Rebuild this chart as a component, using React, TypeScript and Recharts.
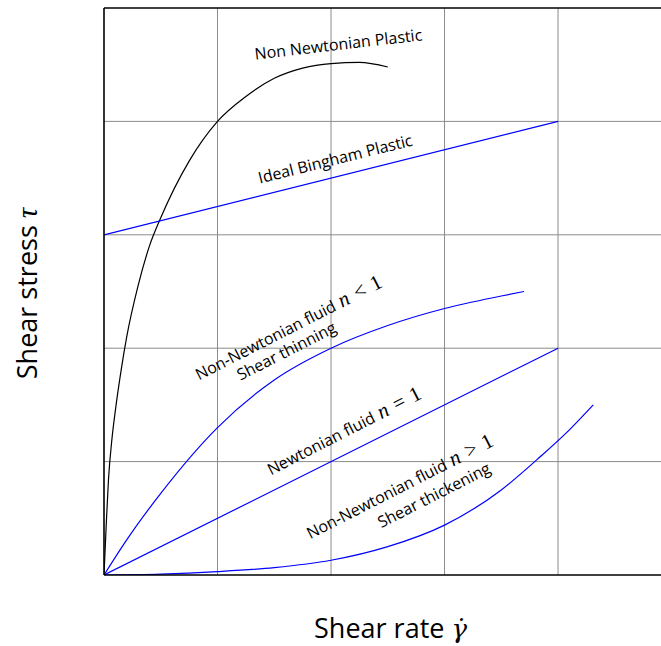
import React from 'react';
import { LineChart, Line, XAxis, YAxis, ReferenceLine, ReferenceDot } from 'recharts';

const X_MAX = 4.907;
const Y_MAX = 5;
const gridX = [1, 2, 3, 4];
const gridY = [1, 2, 3, 4];

const plasticX = [0, 0.02, 0.04, 0.07, 0.1, 0.15, 0.2, 0.3, 0.4, 0.5, 0.75, 1, 1.25, 1.5, 1.75, 2, 2.25, 2.5];
const plasticY = [0, 0.45, 0.85, 1.2, 1.45, 1.8, 2.1, 2.55, 2.9, 3.15, 3.65, 4.0, 4.22, 4.38, 4.47, 4.51, 4.52, 4.48];

const binghamX = [0, 4];
const binghamY = [3, 4];

const thinningX = [0, 0.2, 0.5, 1, 1.5, 2, 2.5, 3, 3.5, 3.7];
const thinningY = [0, 0.31, 0.72, 1.3, 1.72, 2.0, 2.2, 2.35, 2.46, 2.5];

const newtonX = [0, 4];
const newtonY = [0, 2];

const thickeningX = [0, 0.5, 1, 1.5, 2, 2.5, 3, 3.5, 3.84, 4.1, 4.31];
const thickeningY = [0, 0.008, 0.03, 0.065, 0.13, 0.25, 0.44, 0.75, 1.04, 1.28, 1.5];

const annotationText = [
  'Non Newtonian Plastic',
  'Ideal Bingham Plastic',
  'Non-Newtonian fluid',
  'Shear thinning',
  'Newtonian fluid',
  'Non-Newtonian fluid',
  'Shear thickening',
];
const annotationMath = ['', '', '<', '', '=', '>', ''];
const annotationX = [2.07, 2.05, 1.65, 1.63, 2.14, 2.63, 2.93];
const annotationY = [4.63, 3.62, 2.13, 1.93, 1.22, 0.73, 0.66];
const annotationAngle = [-6.6, -14, -27, -27, -27, -27, -27];

const toData = (xs: number[], ys: number[]) => xs.map((x, i) => ({ x, y: ys[i] }));

const series = [
  { name: 'plastic', data: toData(plasticX, plasticY), color: '#000000' },
  { name: 'bingham', data: toData(binghamX, binghamY), color: '#0000ff' },
  { name: 'thinning', data: toData(thinningX, thinningY), color: '#0000ff' },
  { name: 'newton', data: toData(newtonX, newtonY), color: '#0000ff' },
  { name: 'thickening', data: toData(thickeningX, thickeningY), color: '#0000ff' },
];

const SANS = '"Open Sans", "Noto Sans", sans-serif';
const SERIF = '"Liberation Serif", "DejaVu Serif", serif';

const AnnoText = ({ cx, cy, angle, text, math }: any) => (
  <text
    x={cx}
    y={cy}
    transform={`rotate(${angle} ${cx} ${cy})`}
    textAnchor="middle"
    fontFamily={SANS}
    fontSize={16}
    fill="#000"
  >
    {text}
    {math ? (
      <>
        <tspan fontFamily={SERIF} fontStyle="italic" fontSize={21}>{' n'}</tspan>
        <tspan fontFamily={SERIF} fontSize={21} dx={7}>{math}</tspan>
        <tspan fontFamily={SERIF} fontSize={21} dx={7}>{'1'}</tspan>
      </>
    ) : null}
  </text>
);

const XTitle = ({ viewBox }: any) => {
  const cx = viewBox.x + viewBox.width / 2 + 8;
  const y = viewBox.y + 63;
  return (
    <text x={cx} y={y} textAnchor="middle" fontFamily={SANS} fontSize={27} fill="#000">
      Shear rate{' '}
      <tspan fontFamily={'"DejaVu Serif", serif'} fontStyle="italic" fontSize={26}>{'\u03B3\u0307'}</tspan>
    </text>
  );
};

const YTitle = ({ viewBox }: any) => {
  const x = 37;
  const cy = viewBox.y + viewBox.height / 2 + 2;
  return (
    <text
      x={x}
      y={cy}
      transform={`rotate(-90 ${x} ${cy})`}
      textAnchor="middle"
      fontFamily={SANS}
      fontSize={27}
      fill="#000"
    >
      Shear stress{' '}
      <tspan fontFamily={SERIF} fontStyle="italic" fontSize={29}>{'\u03C4'}</tspan>
    </text>
  );
};

export default function App() {
  return (
    <div style={{ position: 'absolute', left: 0, top: 0, width: 661, height: 646, background: '#fff' }}>
      <LineChart width={661} height={646} margin={{ top: 8, right: 0, bottom: 0, left: 0 }}>
        <XAxis
          type="number"
          dataKey="x"
          domain={[0, X_MAX]}
          allowDataOverflow
          tick={false}
          tickLine={false}
          axisLine={{ stroke: '#000', strokeWidth: 1.6 }}
          height={71}
          label={{ content: XTitle }}
        />
        <YAxis
          type="number"
          dataKey="y"
          domain={[0, Y_MAX]}
          allowDataOverflow
          tick={false}
          tickLine={false}
          axisLine={{ stroke: '#000', strokeWidth: 1.6 }}
          width={104}
          label={{ content: YTitle }}
        />
        {gridX.map((g) => (
          <ReferenceLine key={'gx' + g} x={g} stroke="#8c8c8c" strokeWidth={1} />
        ))}
        {gridY.map((g) => (
          <ReferenceLine key={'gy' + g} y={g} stroke="#8c8c8c" strokeWidth={1} />
        ))}
        <ReferenceLine y={Y_MAX} stroke="#000" strokeWidth={1.6} />
        {series.map((s) => (
          <Line
            key={s.name}
            data={s.data}
            dataKey="y"
            type="monotone"
            stroke={s.color}
            strokeWidth={1.2}
            dot={false}
            activeDot={false}
            isAnimationActive={false}
          />
        ))}
        {annotationText.map((t, i) => (
          <ReferenceDot
            key={'a' + i}
            x={annotationX[i]}
            y={annotationY[i]}
            r={0}
            ifOverflow="visible"
            shape={(p: any) => (
              <AnnoText cx={p.cx} cy={p.cy} angle={annotationAngle[i]} text={t} math={annotationMath[i]} />
            )}
          />
        ))}
      </LineChart>
    </div>
  );
}
